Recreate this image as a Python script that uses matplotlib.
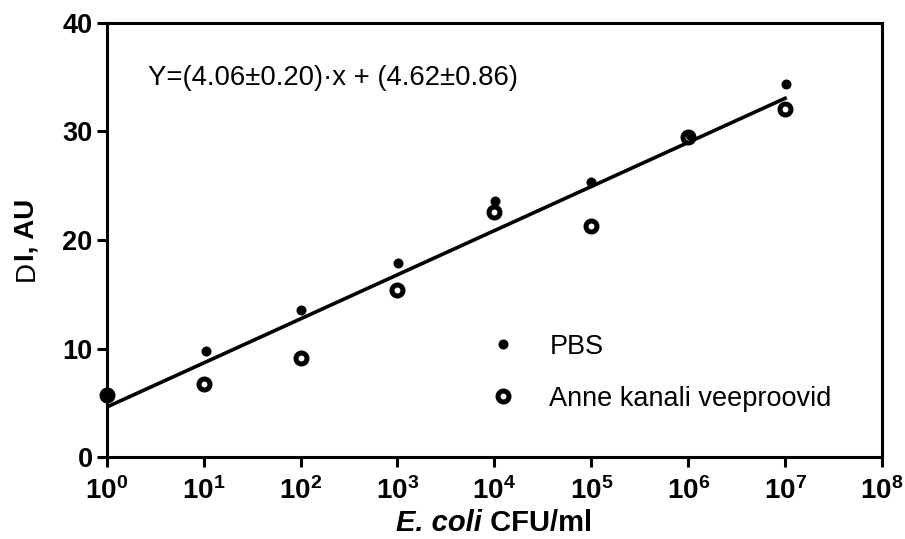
import numpy as np
import matplotlib
matplotlib.use("Agg")
import matplotlib.pyplot as plt

plt.rcParams['font.family'] = ['Liberation Sans', 'DejaVu Sans']
plt.rcParams['mathtext.fontset'] = 'custom'
plt.rcParams['mathtext.rm'] = 'Liberation Sans'
plt.rcParams['mathtext.bf'] = 'Liberation Sans:bold'

# data
pbs_cfu = [1, 10.5, 102, 1020, 10200, 1.0e5, 1.05e6, 1.01e7]
pbs_di = [5.7, 9.8, 13.6, 17.9, 23.6, 25.3, 29.7, 34.4]
water_cfu = [1, 10, 100, 1000, 1e4, 1e5, 1e6, 1e7]
water_di = [5.7, 6.74, 9.14, 15.4, 22.6, 21.3, 29.5, 32.1]

slope, intercept = 4.06, 4.62
fit_cfu = np.array([1, 1e7])
fit_di = slope * np.log10(fit_cfu) + intercept

x_ticks = [10.0 ** k for k in range(9)]
x_ticklabels = [r'$\mathbf{10^{%d}}$' % k for k in range(9)]
y_ticks = [0, 10, 20, 30, 40]

fig = plt.figure(figsize=(9.05, 5.39), dpi=100)
ax = fig.add_axes([0.1179, 0.1516, 0.8567, 0.8063])

ax.plot(fit_cfu, fit_di, color='black', lw=2.6, zorder=3)
ax.plot(water_cfu, water_di, 'o', ms=7.9, mfc='white', mec='black', mew=3.6,
        label='Anne kanali veeproovid', zorder=4, clip_on=False)
ax.plot(pbs_cfu, pbs_di, 'o', ms=7.2, color='black', mew=0,
        label='PBS', zorder=5, clip_on=False)

ax.set_xscale('log')
ax.set_xlim(1, 1e8)
ax.set_ylim(0, 40)
ax.set_xticks(x_ticks)
ax.set_xticklabels(x_ticklabels, fontsize=20)
ax.minorticks_off()
ax.set_yticks(y_ticks)
ax.set_yticklabels([str(v) for v in y_ticks], fontsize=19.5, fontweight='bold')

for s in ax.spines.values():
    s.set_linewidth(2.2)
ax.tick_params(axis='both', direction='out', length=7.2, width=2.2, color='black')
ax.tick_params(axis='x', pad=7)
ax.tick_params(axis='y', pad=3)

ax.text(0.053, 0.873, 'Y=(4.06±0.20)·x + (4.62±0.86)', transform=ax.transAxes,
        fontsize=19.8, va='center', ha='left')

h, l = ax.get_legend_handles_labels()
ax.legend(h[::-1], l[::-1], frameon=False, fontsize=19.5, loc='upper left',
          bbox_to_anchor=(0.48, 0.309), handlelength=1.0, handletextpad=1.2,
          labelspacing=0.95, borderaxespad=0)

# axis titles built from pieces with mixed styles
fig.canvas.draw()
r = fig.canvas.get_renderer()

t1 = fig.text(0, (539 - 523) / 539, 'E. coli', fontsize=21,
              fontweight='bold', style='italic', va='center', ha='left')
t2 = fig.text(0, (539 - 523) / 539, ' CFU/ml', fontsize=21,
              fontweight='bold', va='center', ha='left')
w1 = t1.get_window_extent(r).width
w2 = t2.get_window_extent(r).width
x0 = 494 - (w1 + w2) / 2
t1.set_x(x0 / 905)
t2.set_x((x0 + w1) / 905)

y1 = fig.text(27 / 905, 0, 'D', fontsize=20, rotation=90, va='bottom', ha='center')
y2 = fig.text(27 / 905, 0, 'I, AU', fontsize=20, fontweight='bold', rotation=90,
              va='bottom', ha='center')
h1 = y1.get_window_extent(r).height
h2 = y2.get_window_extent(r).height
yb = (539 - 240) - (h1 + h2) / 2
y1.set_y(yb / 539)
y2.set_y((yb + h1) / 539)

fig.savefig('out.png', dpi=100)
